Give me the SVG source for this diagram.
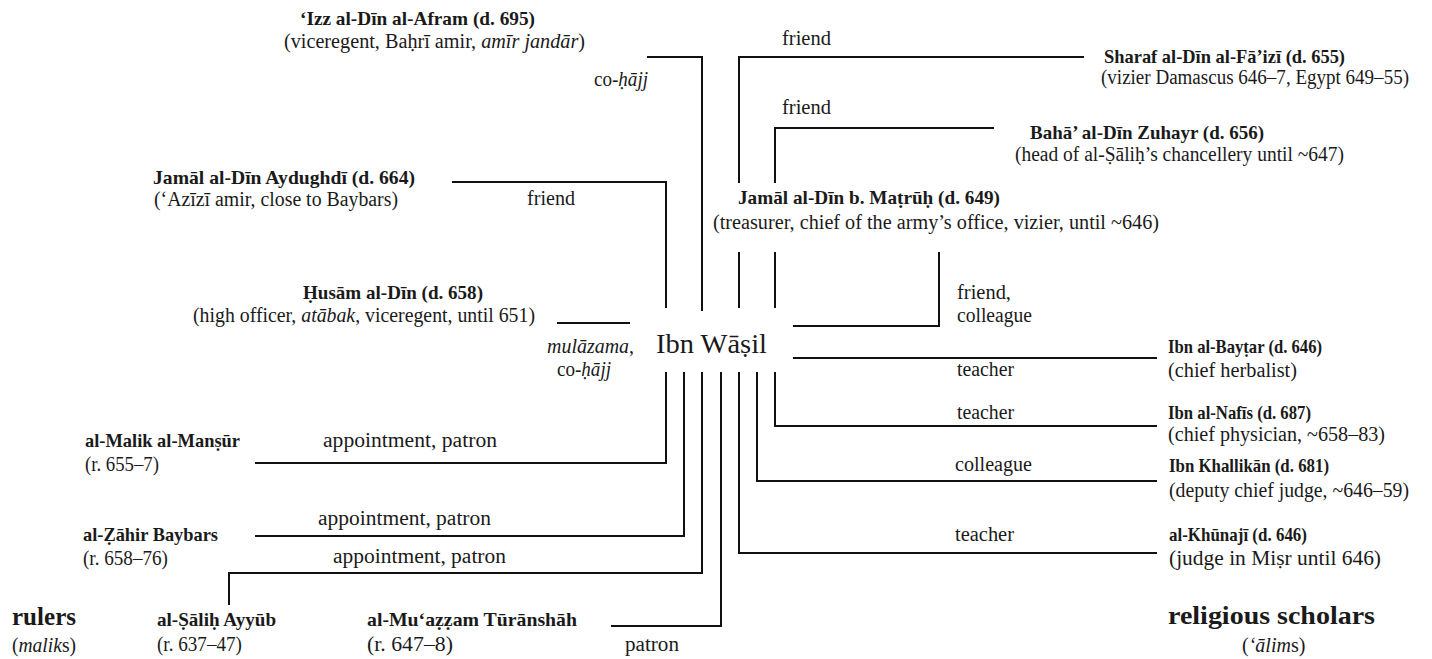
<svg xmlns="http://www.w3.org/2000/svg" width="1432" height="659" viewBox="0 0 1432 659" font-family="'Liberation Serif', 'DejaVu Serif', serif">
<style>
text{font-family:'Liberation Serif','DejaVu Serif',serif;font-size:20px;fill:#1a1a1a}
.b{font-weight:bold;font-size:19px}
.i{font-style:italic}
.h{font-size:25px;font-weight:bold}
.big{font-size:28px}
.c{fill:none;stroke:#111;stroke-width:2}
</style>
<rect width="1432" height="659" fill="#fff"/>
<g id="connectors">
<path class="c" d="M647,57 H702 V311"/>
<path class="c" d="M739,183 V57 H1084"/>
<path class="c" d="M739,252 V308"/>
<path class="c" d="M775,183 V128 H994"/>
<path class="c" d="M775,252 V308"/>
<path class="c" d="M452,182 H666 V308"/>
<path class="c" d="M557,323 H630"/>
<path class="c" d="M793,326 H939 V252"/>
<path class="c" d="M793,358 H1157"/>
<path class="c" d="M775,372 V426 H1157"/>
<path class="c" d="M757,372 V481 H1157"/>
<path class="c" d="M739,372 V553 H1157"/>
<path class="c" d="M666,372 V463 H255"/>
<path class="c" d="M684,372 V536 H255"/>
<path class="c" d="M702,372 V573 H229 V605"/>
<path class="c" d="M721,372 V626 H611"/>
</g>
<g id="edge-labels">
<text x="594" y="86" textLength="54" lengthAdjust="spacingAndGlyphs">co-<tspan class="i">ḥājj</tspan></text>
<text x="782" y="45" textLength="49" lengthAdjust="spacingAndGlyphs">friend</text>
<text x="782" y="114" textLength="49" lengthAdjust="spacingAndGlyphs">friend</text>
<text x="527" y="205" textLength="48" lengthAdjust="spacingAndGlyphs">friend</text>
<text x="957" y="299" textLength="54" lengthAdjust="spacingAndGlyphs">friend,</text>
<text x="957" y="322" textLength="75" lengthAdjust="spacingAndGlyphs">colleague</text>
<text x="547" y="353" textLength="87" lengthAdjust="spacingAndGlyphs"><tspan class="i">mulāzama</tspan>,</text>
<text x="557" y="376" textLength="54" lengthAdjust="spacingAndGlyphs">co-<tspan class="i">ḥājj</tspan></text>
<text x="957" y="376" textLength="57" lengthAdjust="spacingAndGlyphs">teacher</text>
<text x="957" y="419" textLength="57" lengthAdjust="spacingAndGlyphs">teacher</text>
<text x="955" y="471" textLength="77" lengthAdjust="spacingAndGlyphs">colleague</text>
<text x="955" y="541" textLength="59" lengthAdjust="spacingAndGlyphs">teacher</text>
<text x="323" y="447" textLength="174" lengthAdjust="spacingAndGlyphs">appointment, patron</text>
<text x="318" y="525" textLength="173" lengthAdjust="spacingAndGlyphs">appointment, patron</text>
<text x="333" y="563" textLength="173" lengthAdjust="spacingAndGlyphs">appointment, patron</text>
<text x="625" y="651" textLength="54" lengthAdjust="spacingAndGlyphs">patron</text>
</g>
<g id="n-ibnwasil"><text class="big" x="656" y="353" textLength="111" lengthAdjust="spacingAndGlyphs">Ibn Wāṣil</text></g>
<g id="n-afram">
<text class="b" x="300" y="25" textLength="235" lengthAdjust="spacingAndGlyphs">‘Izz al-Dīn al-Afram (d. 695)</text>
<text x="284" y="48" textLength="301" lengthAdjust="spacingAndGlyphs">(viceregent, Baḥrī amir, <tspan class="i">amīr jandār</tspan>)</text>
</g>
<g id="n-faizi">
<text class="b" x="1104" y="63" textLength="241" lengthAdjust="spacingAndGlyphs">Sharaf al-Dīn al-Fā’izī (d. 655)</text>
<text x="1101" y="84" textLength="308" lengthAdjust="spacingAndGlyphs">(vizier Damascus 646–7, Egypt 649–55)</text>
</g>
<g id="n-zuhayr">
<text class="b" x="1030" y="139" textLength="234" lengthAdjust="spacingAndGlyphs">Bahā’ al-Dīn Zuhayr (d. 656)</text>
<text x="1015" y="161" textLength="329" lengthAdjust="spacingAndGlyphs">(head of al-Ṣāliḥ’s chancellery until ~647)</text>
</g>
<g id="n-aydughdi">
<text class="b" x="153" y="184" textLength="262" lengthAdjust="spacingAndGlyphs">Jamāl al-Dīn Aydughdī (d. 664)</text>
<text x="154" y="206" textLength="244" lengthAdjust="spacingAndGlyphs">(‘Azīzī amir, close to Baybars)</text>
</g>
<g id="n-matruh">
<text class="b" x="738" y="204" textLength="262" lengthAdjust="spacingAndGlyphs">Jamāl al-Dīn b. Maṭrūḥ (d. 649)</text>
<text x="713" y="229" textLength="446" lengthAdjust="spacingAndGlyphs">(treasurer, chief of the army’s office, vizier, until ~646)</text>
</g>
<g id="n-husam">
<text class="b" x="303" y="299" textLength="180" lengthAdjust="spacingAndGlyphs">Ḥusām al-Dīn (d. 658)</text>
<text x="193" y="322" textLength="342" lengthAdjust="spacingAndGlyphs">(high officer, <tspan class="i">atābak</tspan>, viceregent, until 651)</text>
</g>
<g id="n-baytar">
<text class="b" x="1168" y="353" textLength="154" lengthAdjust="spacingAndGlyphs">Ibn al-Bayṭar (d. 646)</text>
<text x="1168" y="377" textLength="129" lengthAdjust="spacingAndGlyphs">(chief herbalist)</text>
</g>
<g id="n-nafis">
<text class="b" x="1168" y="419" textLength="143" lengthAdjust="spacingAndGlyphs">Ibn al-Nafīs (d. 687)</text>
<text x="1168" y="441" textLength="217" lengthAdjust="spacingAndGlyphs">(chief physician, ~658–83)</text>
</g>
<g id="n-khallikan">
<text class="b" x="1169" y="472" textLength="160" lengthAdjust="spacingAndGlyphs">Ibn Khallikān (d. 681)</text>
<text x="1169" y="497" textLength="240" lengthAdjust="spacingAndGlyphs">(deputy chief judge, ~646–59)</text>
</g>
<g id="n-khunaji">
<text class="b" x="1169" y="541" textLength="138" lengthAdjust="spacingAndGlyphs">al-Khūnajī (d. 646)</text>
<text x="1169" y="565" textLength="212" lengthAdjust="spacingAndGlyphs">(judge in Miṣr until 646)</text>
</g>
<g id="n-mansur">
<text class="b" x="85" y="447" textLength="155" lengthAdjust="spacingAndGlyphs">al-Malik al-Manṣūr</text>
<text x="85" y="471" textLength="74" lengthAdjust="spacingAndGlyphs">(r. 655–7)</text>
</g>
<g id="n-baybars">
<text class="b" x="83" y="541" textLength="135" lengthAdjust="spacingAndGlyphs">al-Ẓāhir Baybars</text>
<text x="83" y="565" textLength="85" lengthAdjust="spacingAndGlyphs">(r. 658–76)</text>
</g>
<g id="n-salih">
<text class="b" x="157" y="626" textLength="119" lengthAdjust="spacingAndGlyphs">al-Ṣāliḥ Ayyūb</text>
<text x="157" y="651" textLength="85" lengthAdjust="spacingAndGlyphs">(r. 637–47)</text>
</g>
<g id="n-turanshah">
<text class="b" x="367" y="626" textLength="210" lengthAdjust="spacingAndGlyphs">al-Mu‘aẓẓam Tūrānshāh</text>
<text x="367" y="651" textLength="86" lengthAdjust="spacingAndGlyphs">(r. 647–8)</text>
</g>
<g id="g-rulers">
<text class="h" x="12" y="625" textLength="64" lengthAdjust="spacingAndGlyphs">rulers</text>
<text x="12" y="652" textLength="64" lengthAdjust="spacingAndGlyphs">(<tspan class="i">malik</tspan>s)</text>
</g>
<g id="g-scholars">
<text class="h" x="1168" y="624" textLength="207" lengthAdjust="spacingAndGlyphs">religious scholars</text>
<text x="1242" y="652" font-size="18">(<tspan class="i">‘ālim</tspan>s)</text>
</g>
</svg>
